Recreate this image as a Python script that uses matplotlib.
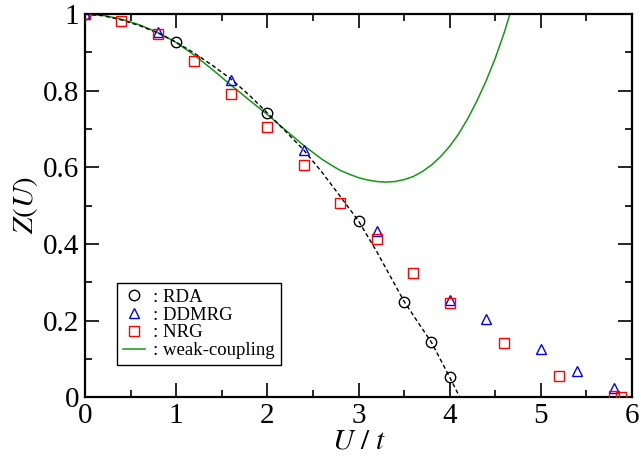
import numpy as np
import matplotlib
matplotlib.use("Agg")
import matplotlib.pyplot as plt
from matplotlib.ticker import MultipleLocator

plt.rcParams['font.family'] = ['Liberation Serif', 'DejaVu Serif']
plt.rcParams['mathtext.fontset'] = 'stix'

# RDA points (black circles)
rda_u = [0, 1.0, 2.0, 3.0, 3.5, 3.8, 4.0]
rda_z = [1.0, 0.927, 0.741, 0.46, 0.248, 0.144, 0.052]

# RDA curve (dashed)
rda_line_u = [0, 0.2, 0.4, 0.6, 0.8, 1.0, 1.2, 1.4, 1.6, 1.8, 2.0, 2.2, 2.4,
              2.6, 2.8, 3.0, 3.2, 3.35, 3.5, 3.65, 3.8, 4.0, 4.11]
rda_line_z = [1.0, 0.996, 0.985, 0.970, 0.951, 0.927, 0.898, 0.866, 0.831,
              0.789, 0.742, 0.694, 0.645, 0.587, 0.524, 0.46, 0.38, 0.315,
              0.25, 0.196, 0.143, 0.052, 0.0]

# DDMRG (blue triangles)
dd_u = [0, 0.8, 1.6, 2.4, 3.2, 4.0, 4.4, 5.0, 5.4, 5.8]
dd_z = [1.0, 0.953, 0.828, 0.645, 0.433, 0.253, 0.204, 0.125, 0.068, 0.024]

# NRG (red squares)
nrg_u = [0, 0.4, 0.8, 1.2, 1.6, 2.0, 2.4, 2.8, 3.2, 3.6, 4.0, 4.6, 5.2, 5.8, 5.88]
nrg_z = [1.0, 0.982, 0.948, 0.877, 0.791, 0.705, 0.606, 0.506, 0.412, 0.323,
         0.246, 0.140, 0.056, 0.003, 0.0]

# weak-coupling curve (green)
wc_u = [0, 0.2, 0.4, 0.6, 0.8, 1.0, 1.2, 1.4, 1.6, 1.8, 2.0, 2.2, 2.4, 2.5,
        2.6, 2.7, 2.8, 2.9, 3.0, 3.1, 3.2, 3.3, 3.4, 3.5, 3.6, 3.7, 3.8, 3.9,
        4.0, 4.1, 4.2, 4.3, 4.4, 4.5, 4.6, 4.7]
wc_z = [1.0, 0.997, 0.987, 0.972, 0.952, 0.926, 0.893, 0.855, 0.815, 0.776,
        0.738, 0.697, 0.657, 0.639, 0.621, 0.606, 0.592, 0.582, 0.573, 0.567,
        0.563, 0.5615, 0.563, 0.568, 0.576, 0.589, 0.606, 0.628, 0.655, 0.688,
        0.728, 0.774, 0.826, 0.885, 0.953, 1.031]

fig = plt.figure(figsize=(6.41, 4.58), dpi=100)
ax = fig.add_axes([0.1326, 0.133, 0.8534, 0.836])

ax.plot(wc_u, wc_z, color='#119911', lw=1.1, label=': weak-coupling', zorder=2)
ax.plot(rda_line_u, rda_line_z, color='black', lw=1.0, ls=(0, (3, 2)), zorder=2)
ax.plot(rda_u, rda_z, 'o', mfc='none', mec='black', ms=7.5, mew=1.0,
        label=': RDA', zorder=3)
ax.plot(dd_u, dd_z, '^', mfc='none', mec='blue', ms=7.5, mew=1.0,
        label=': DDMRG', zorder=3)
ax.plot(nrg_u, nrg_z, 's', mfc='none', mec='red', ms=7, mew=1.0,
        label=': NRG', zorder=3)

ax.set_xlim(0, 6)
ax.set_ylim(0, 1)
ax.xaxis.set_major_locator(MultipleLocator(1))
ax.xaxis.set_minor_locator(MultipleLocator(0.5))
ax.yaxis.set_major_locator(MultipleLocator(0.2))
ax.yaxis.set_minor_locator(MultipleLocator(0.1))
ax.xaxis.set_major_formatter(plt.FuncFormatter(lambda v, p: '%g' % v))
ax.yaxis.set_major_formatter(plt.FuncFormatter(lambda v, p: '%g' % v))
ax.tick_params(which='both', direction='in', top=True, right=True,
               labelsize=21, width=1.2, pad=4)
ax.tick_params(which='major', length=10)
ax.tick_params(which='minor', length=5)
for s in ax.spines.values():
    s.set_linewidth(1.6)

ax.set_xlabel(r'$U\ /\ t$', fontsize=21, labelpad=0)
ax.set_ylabel(r'$Z(U)$', fontsize=21, labelpad=2)

h, l = ax.get_legend_handles_labels()
order = [1, 2, 3, 0]
leg = ax.legend([h[i] for i in order], [l[i] for i in order],
                loc='lower left', bbox_to_anchor=(0.0585, 0.0836),
                fontsize=13.5, frameon=True, fancybox=False, framealpha=1,
                edgecolor='black', handlelength=1.17, handletextpad=0.45,
                labelspacing=0.03, borderpad=0.32, borderaxespad=0)
leg.get_frame().set_linewidth(1.0)

fig.savefig('out.png', dpi=100)
